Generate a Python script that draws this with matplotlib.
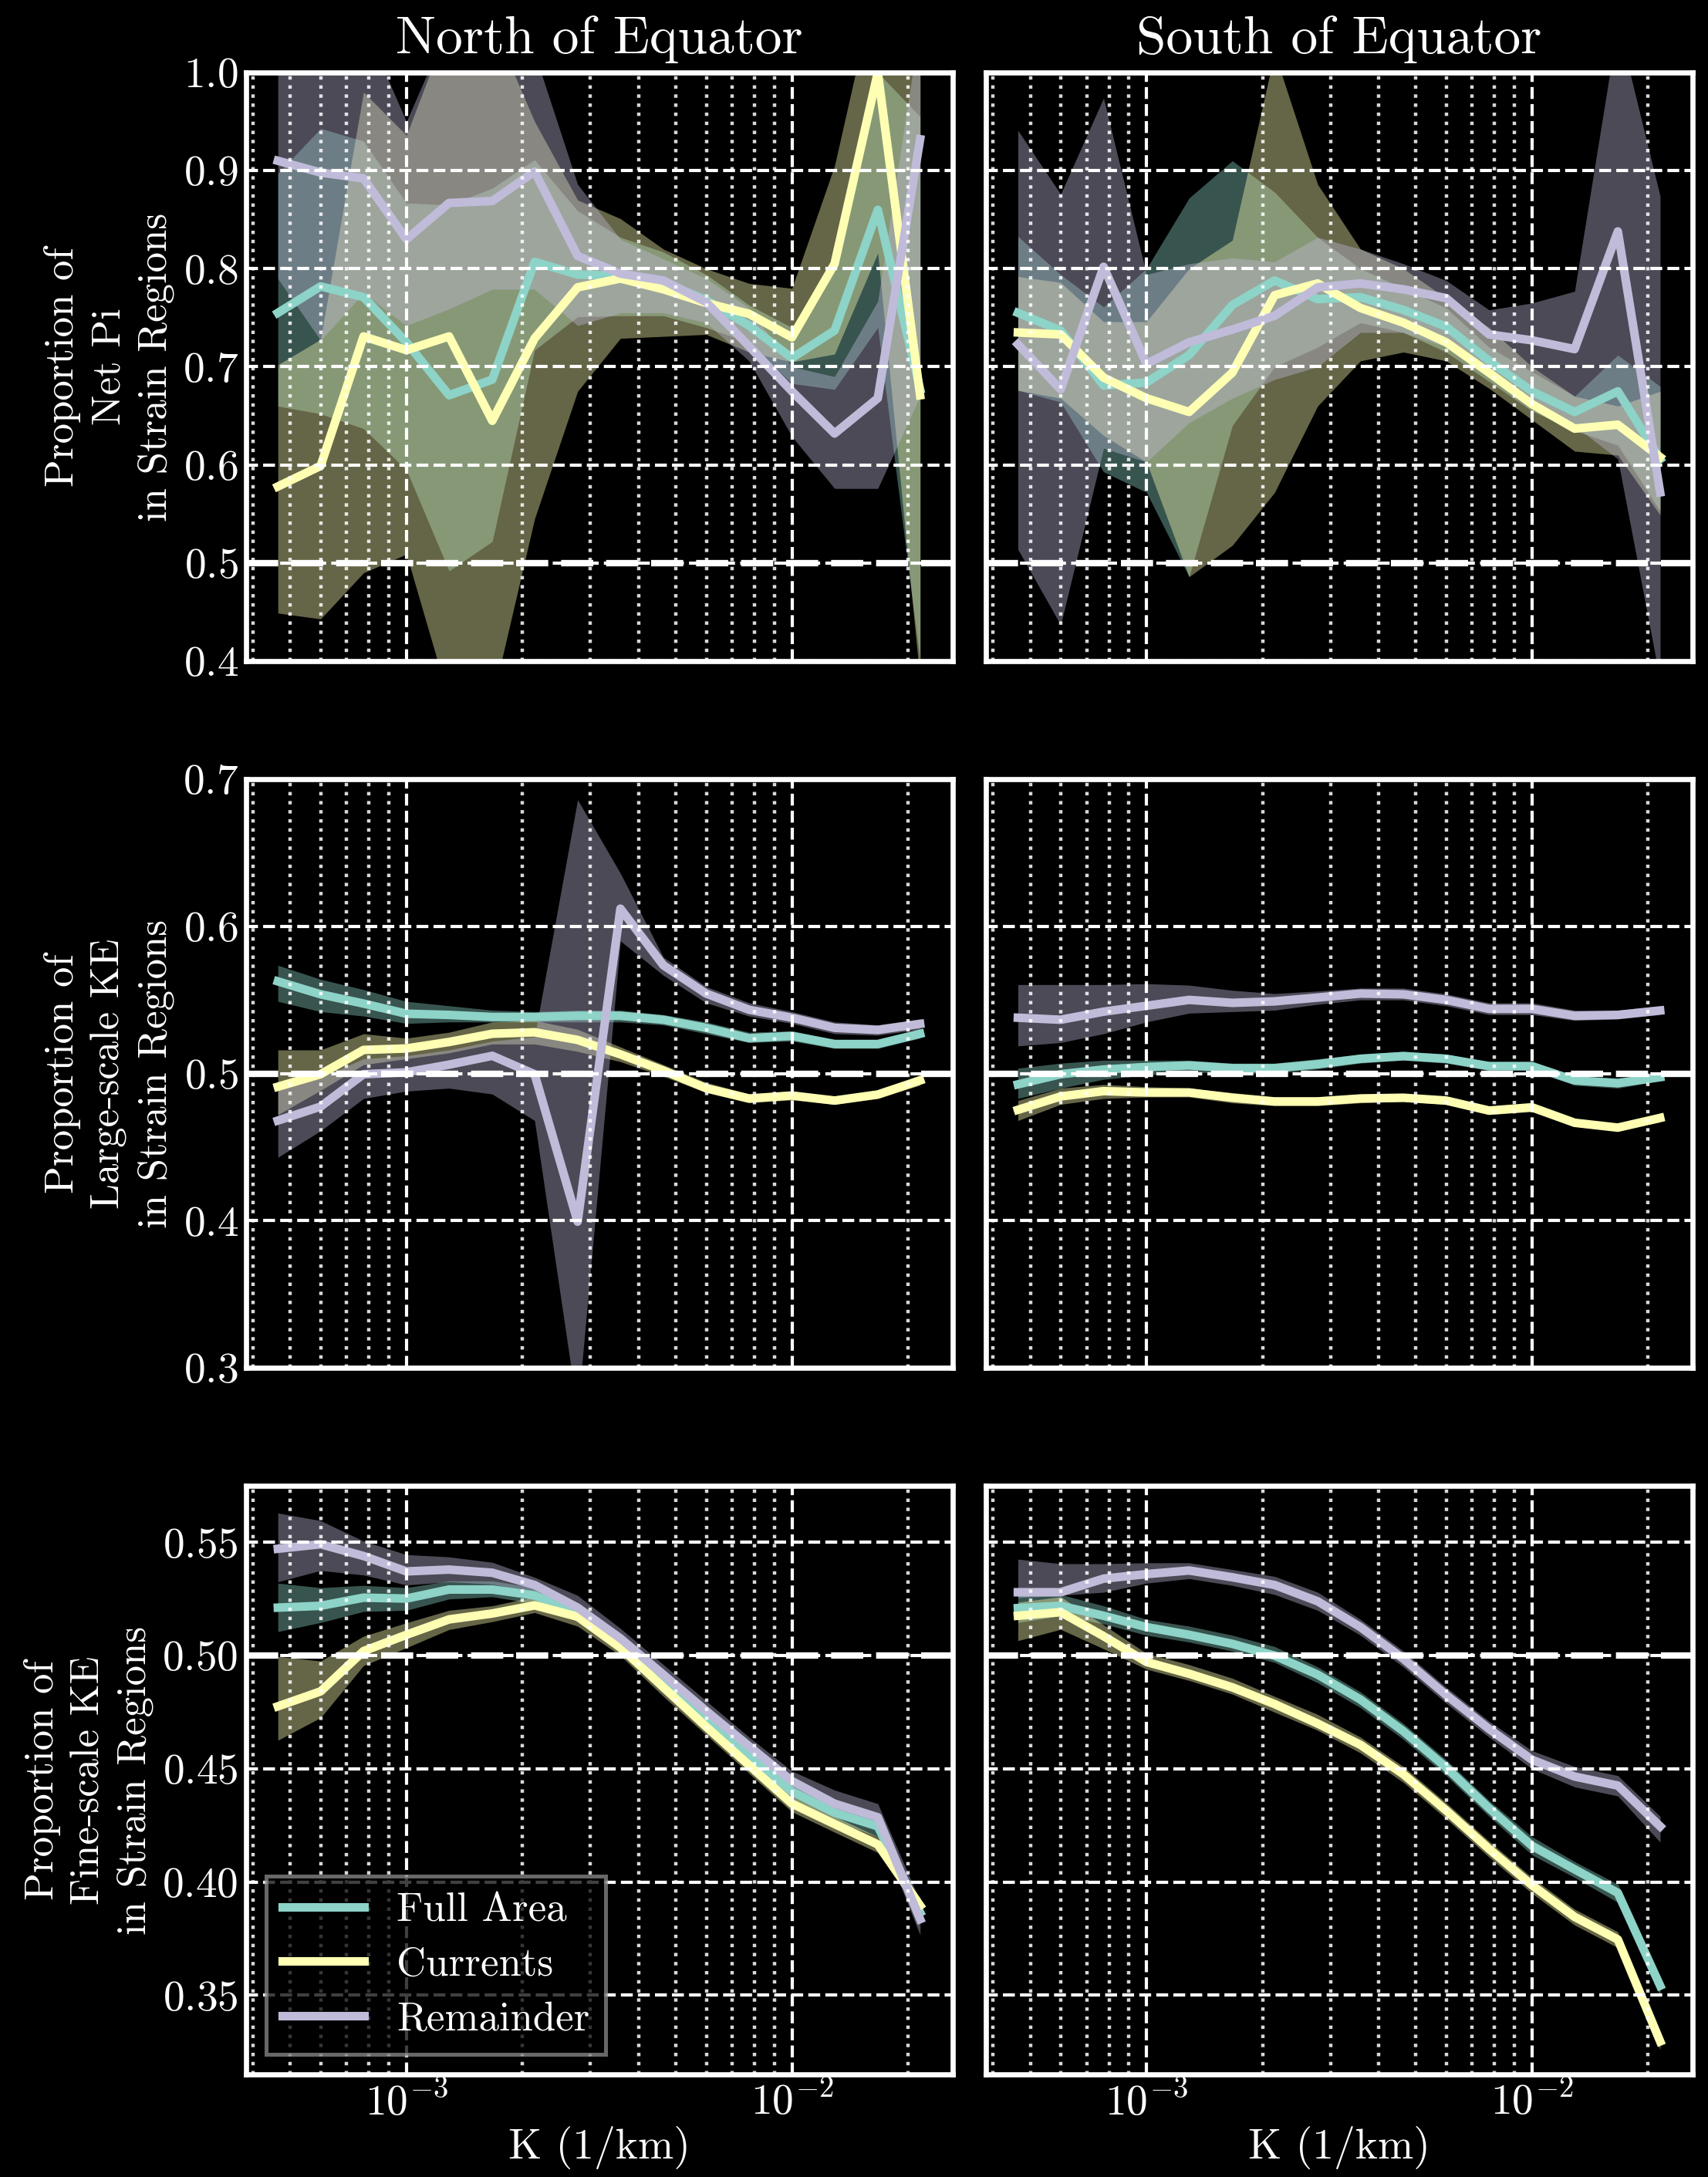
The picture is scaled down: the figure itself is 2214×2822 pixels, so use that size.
import matplotlib
matplotlib.use("Agg")
import matplotlib.pyplot as plt

plt.style.use("dark_background")
plt.rcParams["font.family"] = ["cmr10", "DejaVu Serif"]
plt.rcParams["mathtext.fontset"] = "cm"
plt.rcParams["axes.formatter.use_mathtext"] = True
plt.rcParams["axes.unicode_minus"] = False

# wavenumber bins (1/km)
k = [4.64e-4, 5.99e-4, 7.74e-4, 1.00e-3, 1.29e-3, 1.67e-3, 2.15e-3, 2.78e-3,
     3.59e-3, 4.64e-3, 5.99e-3, 7.74e-3, 1.00e-2, 1.29e-2, 1.67e-2, 2.15e-2]

labels = ["Full Area", "Currents", "Remainder"]
colors = ["#8dd3c7", "#feffb3", "#bfbbd9"]

# ---- Net Pi, North
npi_n_full = [0.755, 0.782, 0.771, 0.725, 0.671, 0.687, 0.807, 0.794, 0.793, 0.786, 0.768, 0.742, 0.709, 0.737, 0.860, 0.677]
npi_n_full_lo = [0.660, 0.652, 0.637, 0.595, 0.492, 0.522, 0.717, 0.751, 0.752, 0.752, 0.740, 0.725, 0.683, 0.677, 0.740, 0.400]
npi_n_full_hi = [0.897, 0.943, 0.930, 0.867, 0.865, 0.882, 0.911, 0.859, 0.832, 0.817, 0.794, 0.763, 0.740, 0.810, 1.000, 0.955]
npi_n_cur = [0.578, 0.599, 0.731, 0.717, 0.731, 0.645, 0.729, 0.781, 0.790, 0.779, 0.765, 0.754, 0.730, 0.805, 1.000, 0.671]
npi_n_cur_lo = [0.449, 0.443, 0.490, 0.509, 0.360, 0.360, 0.545, 0.675, 0.729, 0.731, 0.733, 0.715, 0.705, 0.713, 0.816, 0.380]
npi_n_cur_hi = [0.702, 0.728, 0.980, 0.936, 1.050, 1.050, 0.950, 0.870, 0.851, 0.820, 0.800, 0.785, 0.780, 0.905, 1.100, 1.050]
npi_n_rem = [0.910, 0.898, 0.892, 0.830, 0.867, 0.869, 0.899, 0.813, 0.795, 0.788, 0.766, 0.721, 0.675, 0.632, 0.668, 0.932]
npi_n_rem_lo = [0.790, 0.727, 0.775, 0.742, 0.759, 0.779, 0.779, 0.742, 0.755, 0.755, 0.745, 0.706, 0.629, 0.576, 0.576, 0.670]
npi_n_rem_hi = [1.050, 1.050, 1.050, 0.950, 1.050, 1.050, 1.020, 0.886, 0.830, 0.810, 0.790, 0.760, 0.700, 0.690, 0.767, 1.050]

# ---- Net Pi, South
npi_s_full = [0.755, 0.737, 0.681, 0.684, 0.712, 0.763, 0.788, 0.769, 0.771, 0.758, 0.741, 0.706, 0.675, 0.654, 0.675, 0.606]
npi_s_full_lo = [0.676, 0.664, 0.593, 0.572, 0.486, 0.640, 0.700, 0.720, 0.745, 0.735, 0.715, 0.685, 0.655, 0.635, 0.620, 0.553]
npi_s_full_hi = [0.833, 0.794, 0.761, 0.800, 0.872, 0.910, 0.878, 0.832, 0.800, 0.780, 0.760, 0.720, 0.695, 0.670, 0.712, 0.680]
npi_s_cur = [0.735, 0.733, 0.689, 0.668, 0.654, 0.694, 0.773, 0.785, 0.760, 0.745, 0.725, 0.694, 0.662, 0.637, 0.641, 0.608]
npi_s_cur_lo = [0.676, 0.668, 0.630, 0.603, 0.486, 0.518, 0.572, 0.660, 0.706, 0.715, 0.706, 0.678, 0.646, 0.614, 0.610, 0.549]
npi_s_cur_hi = [0.792, 0.786, 0.746, 0.746, 0.800, 0.829, 1.020, 0.886, 0.820, 0.800, 0.770, 0.740, 0.700, 0.670, 0.660, 0.675]
npi_s_rem = [0.723, 0.677, 0.802, 0.703, 0.725, 0.738, 0.752, 0.781, 0.785, 0.779, 0.770, 0.733, 0.727, 0.718, 0.838, 0.572]
npi_s_rem_lo = [0.514, 0.437, 0.617, 0.603, 0.643, 0.668, 0.687, 0.700, 0.735, 0.735, 0.720, 0.690, 0.665, 0.640, 0.606, 0.380]
npi_s_rem_hi = [0.941, 0.876, 0.974, 0.794, 0.805, 0.811, 0.807, 0.832, 0.820, 0.805, 0.788, 0.758, 0.765, 0.777, 1.050, 0.874]

# ---- Large-scale KE, North
lke_n_full = [0.5626, 0.5538, 0.5475, 0.5406, 0.5398, 0.5384, 0.5384, 0.5392, 0.5392, 0.5365, 0.531, 0.524, 0.5255, 0.520, 0.520, 0.527]
lke_n_full_lo = [0.549, 0.542, 0.539, 0.534, 0.535, 0.535, 0.535, 0.535, 0.535, 0.533, 0.527, 0.521, 0.522, 0.517, 0.517, 0.524]
lke_n_full_hi = [0.5735, 0.564, 0.557, 0.549, 0.546, 0.543, 0.542, 0.543, 0.543, 0.540, 0.535, 0.528, 0.529, 0.523, 0.523, 0.530]
lke_n_cur = [0.491, 0.4995, 0.516, 0.517, 0.5214, 0.527, 0.528, 0.5228, 0.513, 0.502, 0.490, 0.483, 0.485, 0.4816, 0.4857, 0.4953]
lke_n_cur_lo = [0.472, 0.4885, 0.506, 0.510, 0.514, 0.520, 0.520, 0.515, 0.508, 0.498, 0.487, 0.480, 0.482, 0.479, 0.483, 0.492]
lke_n_cur_hi = [0.516, 0.516, 0.527, 0.524, 0.528, 0.535, 0.536, 0.530, 0.518, 0.506, 0.494, 0.486, 0.488, 0.484, 0.488, 0.499]
lke_n_rem = [0.468, 0.4775, 0.4995, 0.5008, 0.506, 0.512, 0.4995, 0.3993, 0.612, 0.5735, 0.5543, 0.5433, 0.5379, 0.531, 0.5296, 0.5337]
lke_n_rem_lo = [0.443, 0.461, 0.483, 0.488, 0.490, 0.486, 0.468, 0.270, 0.590, 0.5667, 0.548, 0.539, 0.534, 0.527, 0.526, 0.530]
lke_n_rem_hi = [0.493, 0.497, 0.510, 0.512, 0.516, 0.522, 0.525, 0.686, 0.636, 0.579, 0.559, 0.548, 0.542, 0.535, 0.533, 0.537]

# ---- Large-scale KE, South
lke_s_full = [0.4926, 0.4995, 0.5027, 0.5044, 0.5055, 0.5036, 0.5036, 0.5063, 0.510, 0.5118, 0.510, 0.505, 0.505, 0.4953, 0.4934, 0.4975]
lke_s_full_lo = [0.483, 0.490, 0.496, 0.499, 0.501, 0.500, 0.500, 0.503, 0.507, 0.509, 0.507, 0.502, 0.502, 0.492, 0.490, 0.495]
lke_s_full_hi = [0.5036, 0.507, 0.509, 0.509, 0.509, 0.507, 0.507, 0.510, 0.513, 0.515, 0.513, 0.508, 0.508, 0.498, 0.497, 0.500]
lke_s_cur = [0.4753, 0.4844, 0.488, 0.4871, 0.4871, 0.4835, 0.481, 0.481, 0.483, 0.4835, 0.4816, 0.4748, 0.477, 0.4665, 0.4632, 0.4698]
lke_s_cur_lo = [0.468, 0.479, 0.483, 0.484, 0.484, 0.480, 0.478, 0.478, 0.480, 0.481, 0.479, 0.472, 0.474, 0.464, 0.461, 0.467]
lke_s_cur_hi = [0.4816, 0.490, 0.4925, 0.491, 0.490, 0.487, 0.484, 0.484, 0.486, 0.486, 0.484, 0.477, 0.480, 0.469, 0.466, 0.472]
lke_s_rem = [0.5379, 0.5365, 0.542, 0.546, 0.550, 0.548, 0.549, 0.5516, 0.5543, 0.5538, 0.550, 0.5439, 0.5439, 0.5392, 0.5398, 0.5428]
lke_s_rem_lo = [0.5187, 0.521, 0.527, 0.535, 0.541, 0.542, 0.543, 0.547, 0.550, 0.550, 0.546, 0.540, 0.540, 0.536, 0.537, 0.540]
lke_s_rem_hi = [0.5604, 0.5604, 0.5604, 0.561, 0.560, 0.5565, 0.5543, 0.556, 0.558, 0.558, 0.554, 0.548, 0.548, 0.543, 0.543, 0.546]

# ---- Fine-scale KE, North
fke_n_full = [0.5212, 0.522, 0.5256, 0.5252, 0.5292, 0.5292, 0.5266, 0.5186, 0.5046, 0.4876, 0.4716, 0.4556, 0.440, 0.4306, 0.4246, 0.3866]
fke_n_full_lo = [0.5106, 0.5146, 0.5195, 0.520, 0.525, 0.526, 0.523, 0.515, 0.501, 0.484, 0.468, 0.452, 0.436, 0.427, 0.420, 0.382]
fke_n_full_hi = [0.532, 0.530, 0.531, 0.530, 0.533, 0.533, 0.530, 0.522, 0.508, 0.491, 0.475, 0.459, 0.444, 0.434, 0.429, 0.391]
fke_n_cur = [0.4776, 0.4842, 0.502, 0.5092, 0.516, 0.5186, 0.5222, 0.5172, 0.5036, 0.486, 0.4686, 0.4516, 0.4346, 0.4256, 0.4166, 0.3896]
fke_n_cur_lo = [0.4626, 0.4726, 0.4956, 0.5035, 0.5115, 0.515, 0.519, 0.513, 0.500, 0.482, 0.465, 0.448, 0.431, 0.422, 0.413, 0.386]
fke_n_cur_hi = [0.4996, 0.4976, 0.5086, 0.5145, 0.520, 0.522, 0.526, 0.521, 0.507, 0.490, 0.472, 0.455, 0.438, 0.429, 0.420, 0.393]
fke_n_rem = [0.5472, 0.5492, 0.544, 0.5372, 0.538, 0.5366, 0.5312, 0.5212, 0.5076, 0.4916, 0.4756, 0.460, 0.4446, 0.4346, 0.4286, 0.3836]
fke_n_rem_lo = [0.5326, 0.5376, 0.5356, 0.5312, 0.5326, 0.5316, 0.5276, 0.5176, 0.504, 0.488, 0.472, 0.456, 0.441, 0.431, 0.4236, 0.3766]
fke_n_rem_hi = [0.563, 0.5596, 0.5506, 0.5446, 0.5436, 0.5412, 0.5346, 0.5266, 0.512, 0.496, 0.480, 0.464, 0.449, 0.4406, 0.4346, 0.3916]

# ---- Fine-scale KE, South
fke_s_full = [0.521, 0.522, 0.5176, 0.5126, 0.5092, 0.5052, 0.500, 0.4916, 0.4806, 0.4666, 0.4506, 0.4326, 0.416, 0.4056, 0.3952, 0.3542]
fke_s_full_lo = [0.5146, 0.5176, 0.514, 0.509, 0.506, 0.502, 0.497, 0.488, 0.477, 0.463, 0.447, 0.429, 0.412, 0.402, 0.391, 0.350]
fke_s_full_hi = [0.527, 0.527, 0.522, 0.516, 0.513, 0.509, 0.504, 0.495, 0.484, 0.470, 0.454, 0.436, 0.420, 0.409, 0.399, 0.358]
fke_s_cur = [0.5176, 0.5192, 0.5086, 0.4972, 0.492, 0.486, 0.4786, 0.470, 0.4606, 0.4476, 0.4316, 0.4146, 0.3986, 0.3846, 0.3746, 0.3296]
fke_s_cur_lo = [0.5066, 0.5116, 0.503, 0.494, 0.489, 0.483, 0.475, 0.467, 0.457, 0.444, 0.428, 0.411, 0.395, 0.381, 0.371, 0.326]
fke_s_cur_hi = [0.5236, 0.526, 0.5136, 0.501, 0.496, 0.490, 0.482, 0.474, 0.464, 0.451, 0.435, 0.418, 0.402, 0.388, 0.378, 0.333]
fke_s_rem = [0.528, 0.528, 0.534, 0.536, 0.5376, 0.5346, 0.5312, 0.524, 0.5126, 0.4986, 0.4826, 0.4676, 0.454, 0.4466, 0.4426, 0.4246]
fke_s_rem_lo = [0.5256, 0.5266, 0.528, 0.532, 0.534, 0.531, 0.527, 0.520, 0.509, 0.495, 0.479, 0.464, 0.450, 0.442, 0.438, 0.4176]
fke_s_rem_hi = [0.5426, 0.5406, 0.5406, 0.541, 0.541, 0.538, 0.535, 0.528, 0.516, 0.502, 0.486, 0.471, 0.458, 0.451, 0.447, 0.429]

panels = [
    [(npi_n_full, npi_n_full_lo, npi_n_full_hi), (npi_n_cur, npi_n_cur_lo, npi_n_cur_hi), (npi_n_rem, npi_n_rem_lo, npi_n_rem_hi)],
    [(npi_s_full, npi_s_full_lo, npi_s_full_hi), (npi_s_cur, npi_s_cur_lo, npi_s_cur_hi), (npi_s_rem, npi_s_rem_lo, npi_s_rem_hi)],
    [(lke_n_full, lke_n_full_lo, lke_n_full_hi), (lke_n_cur, lke_n_cur_lo, lke_n_cur_hi), (lke_n_rem, lke_n_rem_lo, lke_n_rem_hi)],
    [(lke_s_full, lke_s_full_lo, lke_s_full_hi), (lke_s_cur, lke_s_cur_lo, lke_s_cur_hi), (lke_s_rem, lke_s_rem_lo, lke_s_rem_hi)],
    [(fke_n_full, fke_n_full_lo, fke_n_full_hi), (fke_n_cur, fke_n_cur_lo, fke_n_cur_hi), (fke_n_rem, fke_n_rem_lo, fke_n_rem_hi)],
    [(fke_s_full, fke_s_full_lo, fke_s_full_hi), (fke_s_cur, fke_s_cur_lo, fke_s_cur_hi), (fke_s_rem, fke_s_rem_lo, fke_s_rem_hi)],
]

row_labels = ["Proportion of\nNet Pi\nin Strain Regions",
              "Proportion of\nLarge-scale KE\nin Strain Regions",
              "Proportion of\nFine-scale KE\nin Strain Regions"]
row_ylim = [(0.4, 1.0), (0.3, 0.7), (0.315, 0.575)]
row_ticks = [[0.4, 0.5, 0.6, 0.7, 0.8, 0.9, 1.0],
             [0.3, 0.4, 0.5, 0.6, 0.7],
             [0.35, 0.40, 0.45, 0.50, 0.55]]
col_titles = ["North of Equator", "South of Equator"]

fig, axes = plt.subplots(3, 2, figsize=(11.07, 14.11), dpi=200, sharex=True, sharey="row")
fig.subplots_adjust(left=0.1439, right=0.991, bottom=0.0471, top=0.9667, hspace=0.2005, wspace=0.047)

for i in range(3):
    for j in range(2):
        ax = axes[i, j]
        series = panels[2 * i + j]
        for (mid, lo, hi), lab, c in zip(series, labels, colors):
            ax.fill_between(k, lo, hi, color=c, alpha=0.4, linewidth=0)
            ax.plot(k, mid, color=c, lw=4, label=lab)
        ax.axhline(0.5, color="white", lw=3, dashes=(5, 2), zorder=5)
        ax.set_xscale("log")
        ax.set_ylim(*row_ylim[i])
        ax.set_yticks(row_ticks[i])
        ax.set_axisbelow(False)
        ax.grid(True, which="major", axis="both", color="white", ls="--", lw=1.5)
        ax.grid(True, which="minor", axis="x", color="white", ls=":", lw=1.6, alpha=0.85)
        ax.tick_params(which="both", direction="in", labelsize=20, length=0)
        ax.tick_params(axis="x", pad=3)
        for s in ax.spines.values():
            s.set_color("white")
            s.set_linewidth(2.4)
        if i == 0:
            ax.set_title(col_titles[j], fontsize=25, pad=9)
        if i == 2:
            ax.set_xlabel("K (1/km)", fontsize=20, labelpad=1)
        if j == 0:
            ax.set_ylabel(row_labels[i], fontsize=19, linespacing=1.35)

axes[0, 0].set_xlim(10 ** -3.4167, 10 ** -1.5833)

leg = axes[2, 0].legend(loc="lower left", fontsize=19, fancybox=False, framealpha=0.75,
                        edgecolor="#8c8c8c", facecolor="black", labelspacing=0.45)
leg.get_frame().set_linewidth(1.8)

fig.savefig("out.png", dpi=200, facecolor="black")
